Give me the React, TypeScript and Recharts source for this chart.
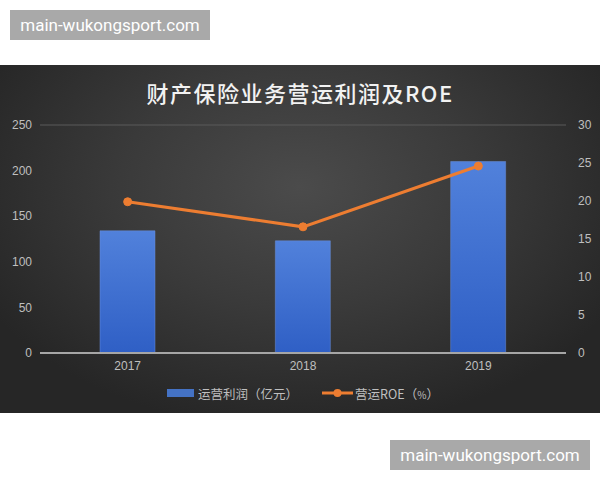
import React from "react";
import { ComposedChart, Bar, Line, XAxis, YAxis, CartesianGrid, Legend } from "recharts";

const years = ["2017", "2018", "2019"];
const profit = [134, 123, 210];
const roe = [19.9, 16.6, 24.6];
const leftTicks = [0, 50, 100, 150, 200, 250];
const rightTicks = [0, 5, 10, 15, 20, 25, 30];

const data = years.map((y, i) => ({ year: y, profit: profit[i], roe: roe[i] }));

const FONT = "'Liberation Sans', Arial, 'Noto Sans CJK SC', sans-serif";
const CJK = "'Noto Sans CJK SC', 'Liberation Sans', sans-serif";

const LegendContent = () => (
  <div
    style={{
      height: 30,
      display: "flex",
      justifyContent: "center",
      alignItems: "center",
      fontFamily: CJK,
      fontSize: 12.5,
      color: "#bfbfbf",
      paddingLeft: 6,
    }}
  >
    <div style={{ display: "flex", alignItems: "center", marginRight: 24 }}>
      <svg width={27} height={8} style={{ marginRight: 4 }}>
        <rect x={0} y={0} width={27} height={8} fill="#4472c4" />
      </svg>
      <span>运营利润（亿元）</span>
    </div>
    <div style={{ display: "flex", alignItems: "center" }}>
      <svg width={31} height={10} style={{ marginRight: 2 }}>
        <line x1={0} y1={5} x2={31} y2={5} stroke="#ed7d31" strokeWidth={3} />
        <circle cx={15.5} cy={5} r={4} fill="#ed7d31" />
      </svg>
      <span>营运ROE（<span style={{ fontSize: 10 }}>%</span>）</span>
    </div>
  </div>
);

const boxStyle: React.CSSProperties = {
  position: "absolute",
  width: 200,
  height: 30,
  background: "#a9a9a9",
  color: "#ffffff",
  fontFamily: "Roboto, 'Liberation Sans', sans-serif",
  fontSize: 17,
  lineHeight: "30px",
  textAlign: "center",
};

export default function App() {
  return (
    <div
      style={{
        position: "absolute",
        left: 0,
        top: 0,
        width: 600,
        height: 480,
        background: "#ffffff",
        overflow: "hidden",
      }}
    >
      <div style={{ ...boxStyle, left: 10, top: 10 }}>main-wukongsport.com</div>
      <div
        style={{
          position: "absolute",
          left: 0,
          top: 65,
          width: 600,
          height: 348,
          background: "radial-gradient(ellipse 60% 70% at 50% 35%, #4b4b4b 0%, #3a3a3a 50%, #262626 100%)",
        }}
      >
        <div
          style={{
            position: "absolute",
            left: 0,
            top: 12,
            width: 600,
            textAlign: "center",
            whiteSpace: "nowrap",
            color: "#f2f2f2",
            fontFamily: CJK,
            fontSize: 22,
            fontWeight: 500,
            letterSpacing: 1.5,
            lineHeight: "30px",
          }}
        >
          财产保险业务营运利润及ROE
        </div>
        <ComposedChart
          width={600}
          height={348}
          data={data}
          margin={{ top: 60, right: 0, bottom: 5, left: 0 }}
          barCategoryGap={0}
        >
          <defs>
            <linearGradient id="barGrad" x1="0" y1="0" x2="0" y2="1">
              <stop offset="0%" stopColor="#5181db" />
              <stop offset="100%" stopColor="#2f5fc5" />
            </linearGradient>
          </defs>
          <CartesianGrid vertical={false} stroke="#5a5a5a" strokeWidth={1} />
          <XAxis
            dataKey="year"
            height={25}
            tickLine={false}
            axisLine={{ stroke: "#a6a6a6", strokeWidth: 2 }}
            tick={{ fill: "#bfbfbf", fontSize: 12, fontFamily: FONT }}
          />
          <YAxis
            yAxisId="left"
            width={40}
            domain={[0, 250]}
            ticks={leftTicks}
            tickLine={false}
            axisLine={false}
            tick={{ fill: "#bfbfbf", fontSize: 12, fontFamily: FONT }}
          />
          <YAxis
            yAxisId="right"
            orientation="right"
            width={34}
            domain={[0, 30]}
            ticks={rightTicks}
            tickLine={false}
            axisLine={false}
            tickMargin={6}
            tick={{ fill: "#bfbfbf", fontSize: 12, fontFamily: FONT, textAnchor: "start" }}
          />
          <Bar
            yAxisId="left"
            dataKey="profit"
            name="运营利润（亿元）"
            barSize={55}
            fill="url(#barGrad)"
            stroke="#6b8fd8"
            strokeWidth={0.5}
            isAnimationActive={false}
          />
          <Line
            yAxisId="right"
            dataKey="roe"
            name="营运ROE（%）"
            stroke="#ed7d31"
            strokeWidth={3}
            dot={{ r: 4, fill: "#ed7d31", stroke: "#ed7d31", strokeWidth: 1 }}
            isAnimationActive={false}
          />
          <Legend verticalAlign="bottom" content={<LegendContent />} />
        </ComposedChart>
      </div>
      <div style={{ ...boxStyle, left: 390, top: 440 }}>main-wukongsport.com</div>
    </div>
  );
}
